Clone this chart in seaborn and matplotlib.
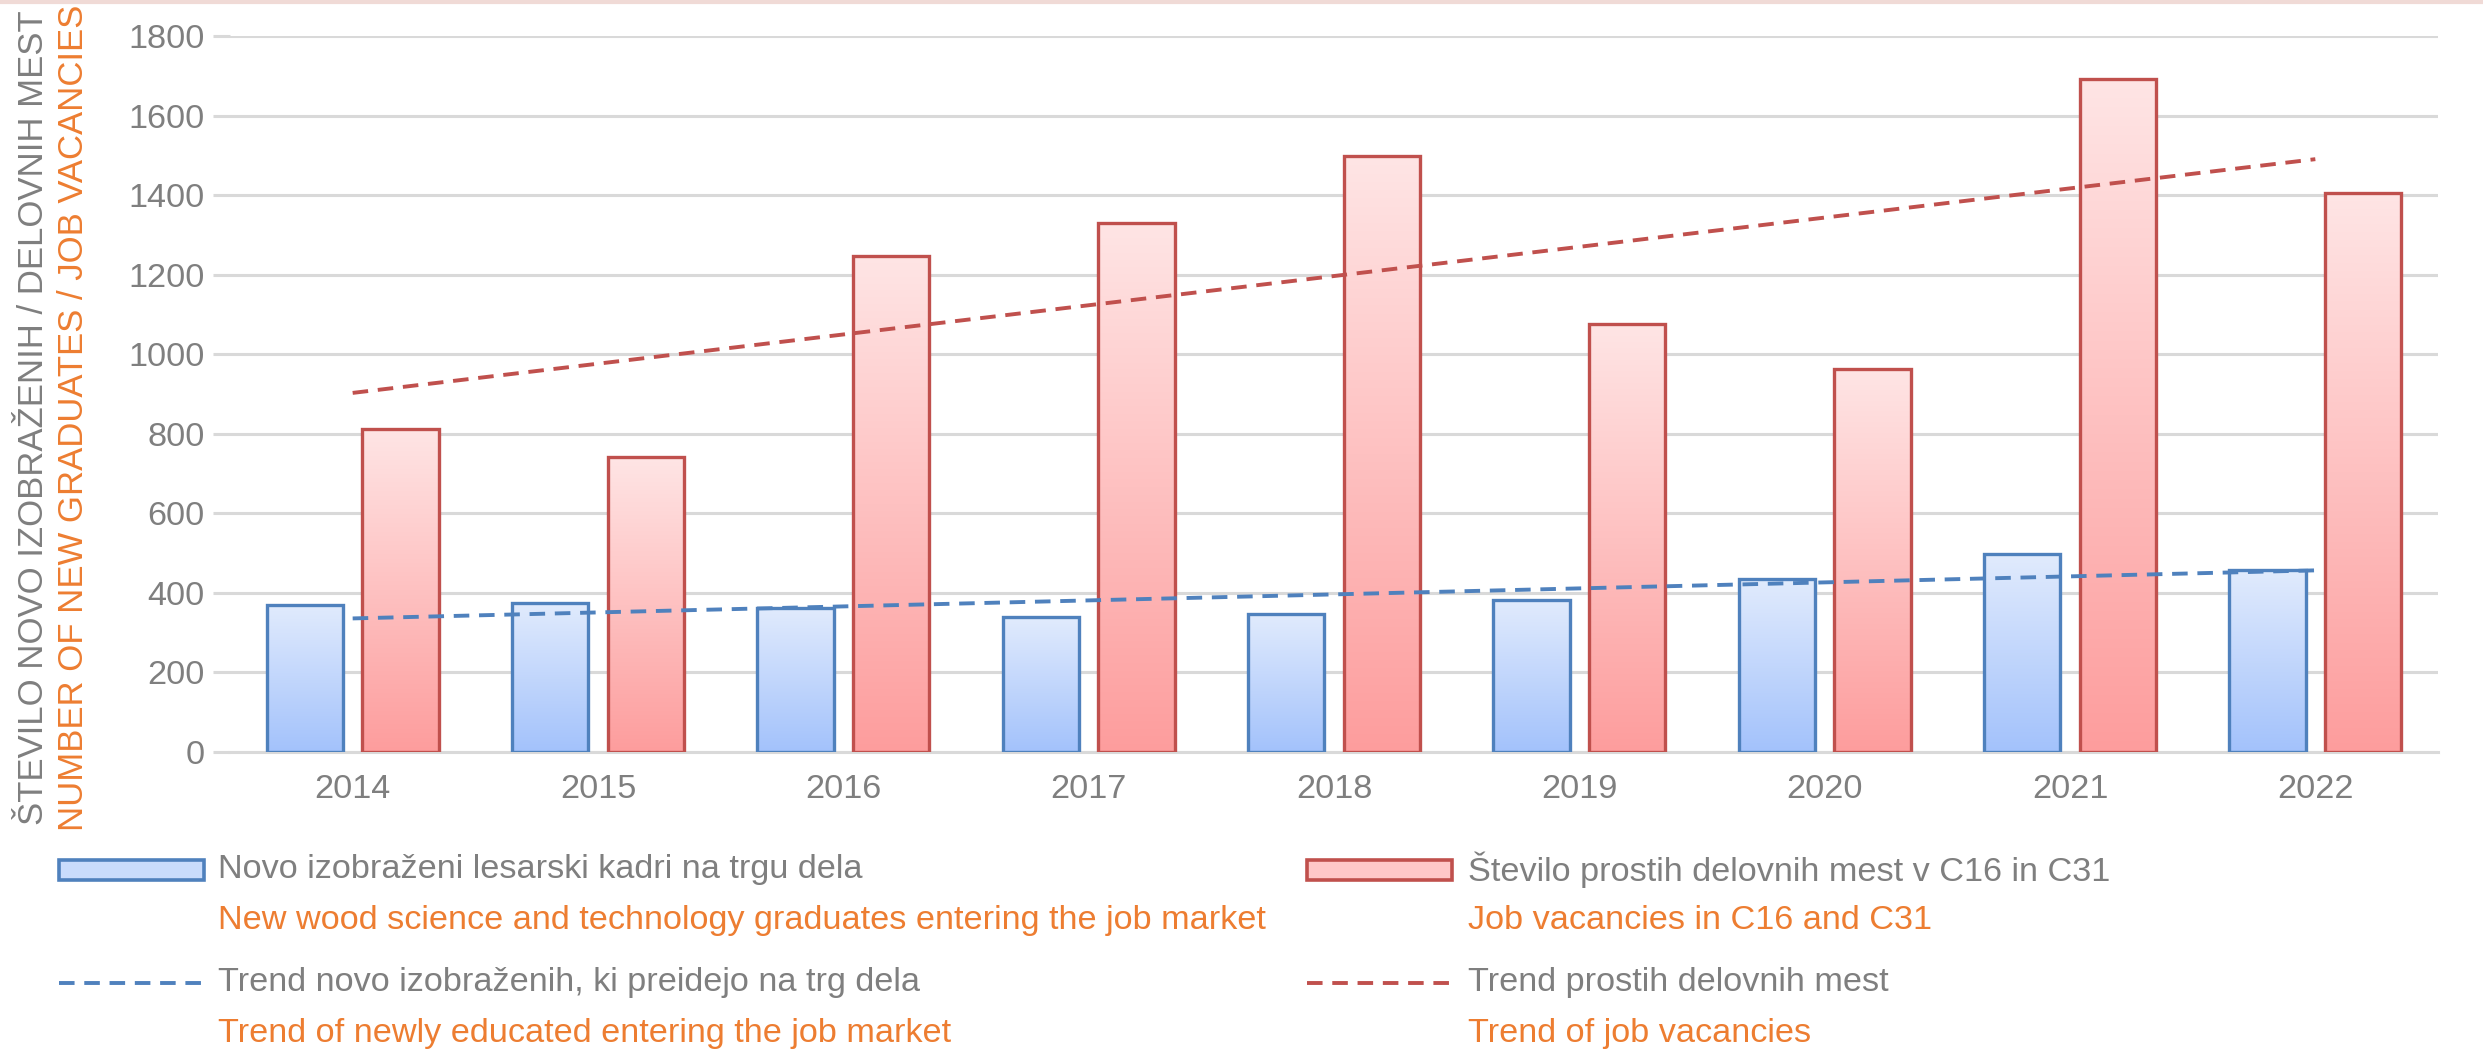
import numpy as np
import pandas as pd
import matplotlib.pyplot as plt
import seaborn as sns
from matplotlib.colors import LinearSegmentedColormap
from matplotlib.patches import Rectangle
from matplotlib.lines import Line2D
from matplotlib import font_manager

years = ["2014", "2015", "2016", "2017", "2018", "2019", "2020", "2021", "2022"]
graduates = [370, 375, 363, 339, 347, 382, 434, 498, 458]
vacancies = [813, 741, 1247, 1331, 1498, 1076, 964, 1693, 1406]

label_grad = "Novo izobraženi lesarski kadri na trgu dela"
label_grad_en = "New wood science and technology graduates entering the job market"
label_vac = "Število prostih delovnih mest v C16 in C31"
label_vac_en = "Job vacancies in C16 and C31"
label_tgrad = "Trend novo izobraženih, ki preidejo na trg dela"
label_tgrad_en = "Trend of newly educated entering the job market"
label_tvac = "Trend prostih delovnih mest"
label_tvac_en = "Trend of job vacancies"
ylabel_si = "ŠTEVILO NOVO IZOBRAŽENIH / DELOVNIH MEST"
ylabel_en = "NUMBER OF NEW GRADUATES / JOB VACANCIES"

GRAY = "#7f7f7f"
ORANGE = "#ED7D31"
BLUE = "#4f81bd"
RED = "#c0504d"
GRID = "#d9d9d9"
W, H = 2483, 1051
FS = 24.7
DASH = (0, (4, 2.5))

sns.set_theme(style="white")
plt.rcParams["font.family"] = ["Liberation Sans", "DejaVu Sans"]

df = pd.DataFrame({
    "year": years * 2,
    "value": graduates + vacancies,
    "series": [label_grad] * len(years) + [label_vac] * len(years),
})

fig = plt.figure(figsize=(W / 100, H / 100), dpi=100)
ax = fig.add_axes([230 / W, 1 - 752 / H, (2438 - 230) / W, (752 - 36) / H])

sns.barplot(data=df, x="year", y="value", hue="series", ax=ax,
            palette=[BLUE, RED], width=0.78, gap=0.2, legend=False,
            linewidth=2.4, zorder=3)

# gradient fill for each bar
grads = [("#a3c2fb", "#e1ebfd"), ("#fd9d9d", "#ffe5e5")]
edges = [BLUE, RED]
grad_img = np.linspace(0, 1, 256).reshape(-1, 1)
for cont, (c_bot, c_top), ec in zip(ax.containers, grads, edges):
    cmap = LinearSegmentedColormap.from_list("g", [c_bot, c_top])
    for bar in cont:
        x0, y0 = bar.get_x(), bar.get_y()
        w, h = bar.get_width(), bar.get_height()
        bar.set_facecolor("none")
        bar.set_edgecolor(ec)
        bar.set_linewidth(2.4)
        bar.set_zorder(4)
        im = ax.imshow(grad_img, cmap=cmap, origin="lower", aspect="auto",
                       extent=[x0, x0 + w, y0, y0 + h], zorder=3)
        im.set_clip_path(bar)

# linear trends
xpos = np.arange(len(years))
for vals, col in [(graduates, BLUE), (vacancies, RED)]:
    k, b = np.polyfit(xpos, vals, 1)
    ax.plot(xpos, k * xpos + b, color=col, lw=2.8, ls=DASH, zorder=5)

ax.set_xlim(-0.5, len(years) - 0.5)
ax.set_ylim(0, 1800)
ax.set_yticks(range(0, 1801, 200))
ax.yaxis.grid(True, color=GRID, lw=2.2)
ax.set_axisbelow(True)
for s in ["top", "right", "left"]:
    ax.spines[s].set_visible(False)
ax.spines["bottom"].set_color(GRID)
ax.spines["bottom"].set_linewidth(2.2)
ax.set_xticks(np.arange(-0.5, len(years)), minor=True)
ax.tick_params(axis="x", which="minor", length=12, width=2.2, color=GRID, direction="out")
ax.tick_params(axis="x", which="major", length=0, labelsize=FS, labelcolor=GRAY, pad=16)
ax.tick_params(axis="y", length=12, width=2.2, color=GRID, labelsize=FS,
               labelcolor=GRAY, pad=6, left=True)
ax.set_xlabel("")
ax.set_ylabel("")

# y-axis titles (two languages), sized to the reference length
names = {f.name for f in font_manager.fontManager.ttflist}
yfam = ["Liberation Sans Narrow"] if "Liberation Sans Narrow" in names else ["Liberation Sans"]
fig.canvas.draw()
for txt, col, xc, target in [(ylabel_si, GRAY, 34, 820), (ylabel_en, ORANGE, 74, 834)]:
    t = fig.text(xc / W, 1 - 418 / H, txt, rotation=90, ha="center", va="center",
                 color=col, fontsize=25, family=yfam + ["DejaVu Sans"])
    ext = t.get_window_extent(renderer=fig.canvas.get_renderer())
    t.set_fontsize(min(25, 25 * target / ext.height))

# legend (manual, two columns, bilingual labels)
entries = [
    (59, 218, 870, "bar", BLUE, "#c9dcfc", label_grad, label_grad_en),
    (59, 218, 983, "line", BLUE, None, label_tgrad, label_tgrad_en),
    (1307, 1468, 870, "bar", RED, "#ffc8c8", label_vac, label_vac_en),
    (1307, 1468, 983, "line", RED, None, label_tvac, label_tvac_en),
]
for hx, tx, yc, kind, col, fc, lab, lab_en in entries:
    if kind == "bar":
        fig.add_artist(Rectangle((hx / W, 1 - (yc + 10) / H), 145 / W, 20 / H,
                                 facecolor=fc, edgecolor=col, lw=2.6,
                                 transform=fig.transFigure))
    else:
        fig.add_artist(Line2D([hx / W, (hx + 145) / W], [1 - yc / H] * 2, color=col,
                              lw=2.8, ls=DASH, transform=fig.transFigure))
    fig.text(tx / W, 1 - (yc - 4) / H, lab, ha="left", va="center_baseline",
             color=GRAY, fontsize=FS)
    fig.text(tx / W, 1 - (yc + 47) / H, lab_en, ha="left", va="center_baseline",
             color=ORANGE, fontsize=FS)

fig.add_artist(Line2D([0, 1], [0.9985, 0.9985], color="#f0dad6", lw=3, transform=fig.transFigure))

fig.savefig("out.png", dpi=100)
